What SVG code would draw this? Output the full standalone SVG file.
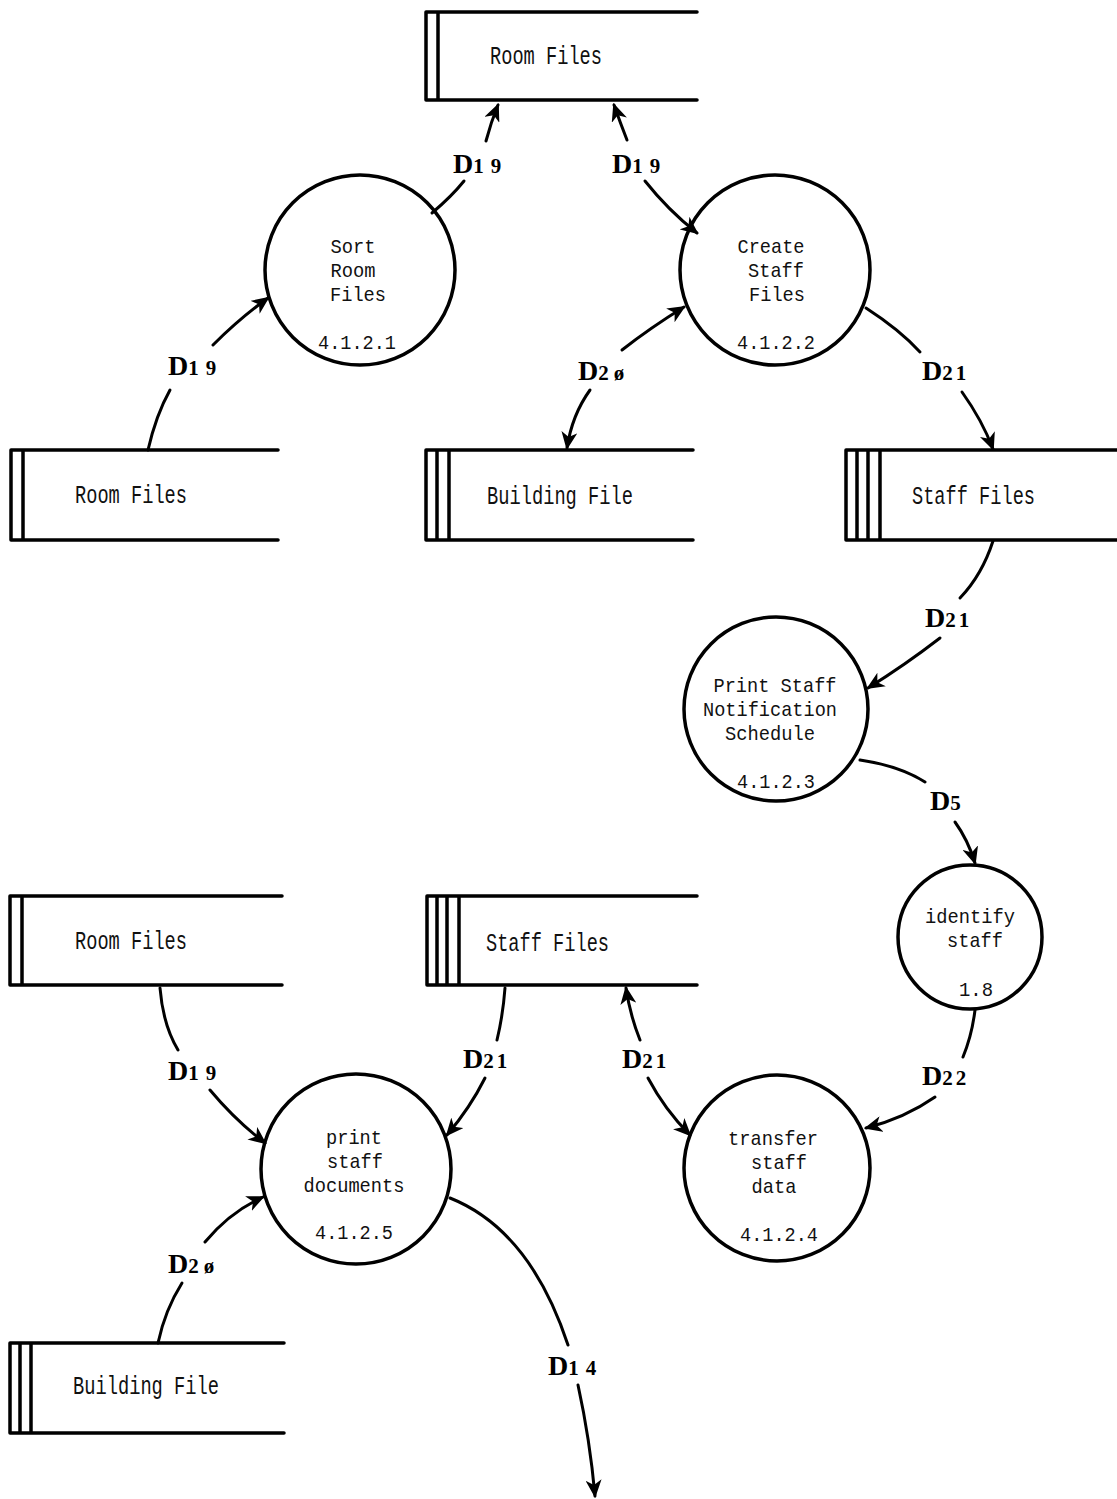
<svg xmlns="http://www.w3.org/2000/svg" width="1117" height="1499" viewBox="0 0 1117 1499">
  <defs>
    <marker id="arr" markerUnits="userSpaceOnUse" markerWidth="18" markerHeight="16" refX="16" refY="8" orient="auto">
      <path d="M0,0 L18,8 L0,16 L5,8 z" fill="#000"/>
    </marker>
    <style>
      .store path { fill: none; stroke: #000; stroke-width: 3.5; stroke-linecap: round; }
      .proc circle { fill: none; stroke: #000; stroke-width: 3.5; }
      .t { font-family: "Liberation Mono", "DejaVu Sans Mono", monospace; font-size: 26px; fill: #111; }
      .proc .t { font-size: 21px; }
      .c { text-anchor: middle; }
      .flow path { fill: none; stroke: #000; stroke-width: 3; stroke-linecap: round; }
      .lbl { font-family: "Liberation Serif", "DejaVu Serif", serif; font-size: 28px; font-weight: bold; fill: #000; }
      .lbl tspan { font-size: 21px; }
    </style>
  </defs>
  <rect width="1117" height="1499" fill="#fff"/>

  <!-- data stores -->
  <g id="store-room-top" class="store">
    <path d="M426,12 H697 M426,100 H697 M426,12 V100 M438,12 V100"/>
    <text class="t" x="490" y="64" textLength="112" lengthAdjust="spacingAndGlyphs">Room Files</text>
  </g>
  <g id="store-room-mid" class="store">
    <path d="M11,450 H278 M11,540 H278 M11,450 V540 M23,450 V540"/>
    <text class="t" x="75" y="503" textLength="112" lengthAdjust="spacingAndGlyphs">Room Files</text>
  </g>
  <g id="store-building-mid" class="store">
    <path d="M426,450 H693 M426,540 H693 M426,450 V540 M437,450 V540 M449,450 V540"/>
    <text class="t" x="487" y="504" textLength="146" lengthAdjust="spacingAndGlyphs">Building File</text>
  </g>
  <g id="store-staff-mid" class="store">
    <path d="M846,450 H1117 M846,540 H1117 M846,450 V540 M857,450 V540 M868,450 V540 M880,450 V540"/>
    <text class="t" x="912" y="504" textLength="123" lengthAdjust="spacingAndGlyphs">Staff Files</text>
  </g>
  <g id="store-room-low" class="store">
    <path d="M10,896 H282 M10,985 H282 M10,896 V985 M22,896 V985"/>
    <text class="t" x="75" y="949" textLength="112" lengthAdjust="spacingAndGlyphs">Room Files</text>
  </g>
  <g id="store-staff-low" class="store">
    <path d="M427,896 H697 M427,985 H697 M427,896 V985 M437,896 V985 M447,896 V985 M459,896 V985"/>
    <text class="t" x="486" y="951" textLength="123" lengthAdjust="spacingAndGlyphs">Staff Files</text>
  </g>
  <g id="store-building-low" class="store">
    <path d="M10,1343 H284 M10,1433 H284 M10,1343 V1433 M20,1343 V1433 M31,1343 V1433"/>
    <text class="t" x="73" y="1394" textLength="146" lengthAdjust="spacingAndGlyphs">Building File</text>
  </g>

  <!-- processes -->
  <g id="proc-4121" class="proc">
    <circle cx="360" cy="270" r="95"/>
    <text class="t c" x="353" y="253" textLength="45" lengthAdjust="spacingAndGlyphs">Sort</text>
    <text class="t c" x="353" y="277" textLength="45" lengthAdjust="spacingAndGlyphs">Room</text>
    <text class="t c" x="358" y="301" textLength="56" lengthAdjust="spacingAndGlyphs">Files</text>
    <text class="t c" x="357" y="349" textLength="78" lengthAdjust="spacingAndGlyphs">4.1.2.1</text>
  </g>
  <g id="proc-4122" class="proc">
    <circle cx="775" cy="270" r="95"/>
    <text class="t c" x="771" y="253" textLength="67" lengthAdjust="spacingAndGlyphs">Create</text>
    <text class="t c" x="776" y="277" textLength="56" lengthAdjust="spacingAndGlyphs">Staff</text>
    <text class="t c" x="777" y="301" textLength="56" lengthAdjust="spacingAndGlyphs">Files</text>
    <text class="t c" x="776" y="349" textLength="78" lengthAdjust="spacingAndGlyphs">4.1.2.2</text>
  </g>
  <g id="proc-4123" class="proc">
    <circle cx="776" cy="709" r="92"/>
    <text class="t c" x="775" y="692" textLength="123" lengthAdjust="spacingAndGlyphs">Print Staff</text>
    <text class="t c" x="770" y="716" textLength="134" lengthAdjust="spacingAndGlyphs">Notification</text>
    <text class="t c" x="770" y="740" textLength="90" lengthAdjust="spacingAndGlyphs">Schedule</text>
    <text class="t c" x="776" y="788" textLength="78" lengthAdjust="spacingAndGlyphs">4.1.2.3</text>
  </g>
  <g id="proc-18" class="proc">
    <circle cx="970" cy="937" r="72"/>
    <text class="t c" x="970" y="923" textLength="90" lengthAdjust="spacingAndGlyphs">identify</text>
    <text class="t c" x="975" y="947" textLength="56" lengthAdjust="spacingAndGlyphs">staff</text>
    <text class="t c" x="976" y="996" textLength="34" lengthAdjust="spacingAndGlyphs">1.8</text>
  </g>
  <g id="proc-4124" class="proc">
    <circle cx="777" cy="1168" r="93"/>
    <text class="t c" x="773" y="1145" textLength="90" lengthAdjust="spacingAndGlyphs">transfer</text>
    <text class="t c" x="779" y="1169" textLength="56" lengthAdjust="spacingAndGlyphs">staff</text>
    <text class="t c" x="774" y="1193" textLength="45" lengthAdjust="spacingAndGlyphs">data</text>
    <text class="t c" x="779" y="1241" textLength="78" lengthAdjust="spacingAndGlyphs">4.1.2.4</text>
  </g>
  <g id="proc-4125" class="proc">
    <circle cx="356" cy="1169" r="95"/>
    <text class="t c" x="354" y="1144" textLength="56" lengthAdjust="spacingAndGlyphs">print</text>
    <text class="t c" x="355" y="1168" textLength="56" lengthAdjust="spacingAndGlyphs">staff</text>
    <text class="t c" x="354" y="1192" textLength="101" lengthAdjust="spacingAndGlyphs">documents</text>
    <text class="t c" x="354" y="1239" textLength="78" lengthAdjust="spacingAndGlyphs">4.1.2.5</text>
  </g>

  <!-- data flows -->
  <g id="flows" class="flow">
    <path d="M432,213 Q452,196 464,181"/>
    <path d="M486,141 Q491,122 498,105" marker-end="url(#arr)"/>
    <path d="M627,140 Q620,122 614,105" marker-end="url(#arr)"/>
    <path d="M645,181 Q668,210 697,233" marker-end="url(#arr)"/>
    <path d="M148,450 Q156,415 170,390"/>
    <path d="M213,345 Q240,318 268,298" marker-end="url(#arr)"/>
    <path d="M622,350 Q650,328 684,307" marker-end="url(#arr)"/>
    <path d="M590,390 Q572,415 567,448" marker-end="url(#arr)"/>
    <path d="M866,308 Q900,330 920,352"/>
    <path d="M962,392 Q982,420 993,449" marker-end="url(#arr)"/>
    <path d="M993,541 Q982,575 960,598"/>
    <path d="M940,638 Q905,665 868,688" marker-end="url(#arr)"/>
    <path d="M860,760 Q900,766 925,782"/>
    <path d="M955,822 Q968,840 975,863" marker-end="url(#arr)"/>
    <path d="M975,1010 Q972,1035 963,1057"/>
    <path d="M935,1097 Q905,1118 866,1128" marker-end="url(#arr)"/>
    <path d="M640,1040 Q630,1015 626,988" marker-end="url(#arr)"/>
    <path d="M648,1078 Q665,1110 690,1135" marker-end="url(#arr)"/>
    <path d="M505,988 Q503,1015 497,1040"/>
    <path d="M485,1078 Q470,1108 447,1135" marker-end="url(#arr)"/>
    <path d="M160,988 Q163,1025 178,1050"/>
    <path d="M210,1090 Q235,1120 265,1143" marker-end="url(#arr)"/>
    <path d="M158,1343 Q165,1310 182,1283"/>
    <path d="M205,1242 Q230,1212 263,1197" marker-end="url(#arr)"/>
    <path d="M450,1198 Q530,1230 568,1345"/>
    <path d="M578,1385 Q590,1440 595,1496" marker-end="url(#arr)"/>
  </g>

  <!-- flow labels -->
  <g id="labels">
    <text class="lbl" x="453" y="173">D<tspan>1</tspan><tspan dx="7">9</tspan></text>
    <text class="lbl" x="612" y="173">D<tspan>1</tspan><tspan dx="7">9</tspan></text>
    <text class="lbl" x="168" y="375">D<tspan>1</tspan><tspan dx="7">9</tspan></text>
    <text class="lbl" x="578" y="380">D<tspan>2</tspan><tspan dx="5">ø</tspan></text>
    <text class="lbl" x="922" y="380">D<tspan>2</tspan><tspan dx="3">1</tspan></text>
    <text class="lbl" x="925" y="627">D<tspan>2</tspan><tspan dx="3">1</tspan></text>
    <text class="lbl" x="930" y="810">D<tspan>5</tspan></text>
    <text class="lbl" x="922" y="1085">D<tspan>2</tspan><tspan dx="3">2</tspan></text>
    <text class="lbl" x="622" y="1068">D<tspan>2</tspan><tspan dx="3">1</tspan></text>
    <text class="lbl" x="463" y="1068">D<tspan>2</tspan><tspan dx="3">1</tspan></text>
    <text class="lbl" x="168" y="1080">D<tspan>1</tspan><tspan dx="7">9</tspan></text>
    <text class="lbl" x="168" y="1273">D<tspan>2</tspan><tspan dx="5">ø</tspan></text>
    <text class="lbl" x="548" y="1375">D<tspan>1</tspan><tspan dx="7">4</tspan></text>
  </g>
</svg>
